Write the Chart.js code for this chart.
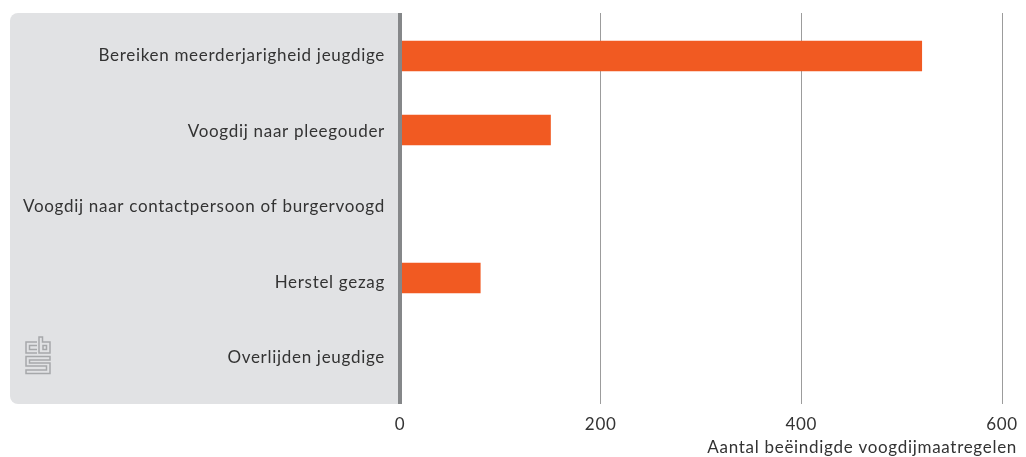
<!DOCTYPE html>
<html>
<head>
    <meta charset="utf-8"/>
    <title>Beëindigde voogdijmaatregelen</title>
    <style>
        html, body { margin: 0; padding: 0; background: #ffffff; }
        #wrap { width: 1026px; height: 457px; }
    </style>
</head>
<body>
<div id="wrap"><canvas id="grafiek" width="1026" height="457"></canvas></div>

<script src="https://cdn.jsdelivr.net/npm/chart.js@4/dist/chart.umd.min.js"></script>
<script>
var categories = [
    "Bereiken meerderjarigheid jeugdige",
    "Voogdij naar pleegouder",
    "Voogdij naar contactpersoon of burgervoogd",
    "Herstel gezag",
    "Overlijden jeugdige"
];
var waarden = [520, 150, 0, 80, 0];
var xTicks = [0, 200, 400, 600];
var xTitel = "Aantal beëindigde voogdijmaatregelen";

var FONT = "Lato, sans-serif";
var FONTSIZE = 17;
var LETTER = "0.7px";
var TEKST = "#333333";

// cbs logo, in de grijze kant van het paneel
function drawLogo(ctx, x, y)
{
    ctx.save();
    ctx.translate(x, y);
    ctx.strokeStyle = "#a6a8aa";
    ctx.lineWidth = 1.5;
    ctx.beginPath();
    // c
    ctx.moveTo(12, 6); ctx.lineTo(1, 6); ctx.lineTo(1, 17); ctx.lineTo(12, 17);
    ctx.moveTo(12, 9.5); ctx.lineTo(4.5, 9.5); ctx.lineTo(4.5, 13.5); ctx.lineTo(12, 13.5);
    // b
    ctx.moveTo(14, 1); ctx.lineTo(14, 17); ctx.lineTo(25, 17); ctx.lineTo(25, 6); ctx.lineTo(17.5, 6); ctx.lineTo(17.5, 1); ctx.closePath();
    ctx.rect(18, 9.5, 3.5, 4);
    // s
    ctx.moveTo(25, 20.5); ctx.lineTo(1, 20.5); ctx.lineTo(1, 30); ctx.lineTo(21.5, 30); ctx.lineTo(21.5, 34);
    ctx.lineTo(1, 34); ctx.lineTo(1, 37.5); ctx.lineTo(25, 37.5); ctx.lineTo(25, 27); ctx.lineTo(4.5, 27);
    ctx.lineTo(4.5, 24); ctx.lineTo(25, 24); ctx.closePath();
    ctx.stroke();
    ctx.restore();
}

var achtergrond = {
    id: "achtergrond",
    beforeLayout: function(chart) { chart.ctx.letterSpacing = LETTER; },
    afterLayout: function(chart) {
        // de labels staan in het origineel iets ruimer dan de balken
        chart.scales.y.getLabelItems().forEach(function(item, i) {
            item.options.translation[1] += i * 1.5;
        });
    },
    beforeDraw: function(chart) {
        var ctx = chart.ctx;
        ctx.letterSpacing = LETTER;
        var x0 = chart.scales.x.getPixelForValue(0);
        ctx.save();
        ctx.fillStyle = "#e1e2e4";
        ctx.beginPath();
        ctx.roundRect(10, 13, x0 - 10, 391, [8, 0, 0, 8]);
        ctx.fill();
        ctx.restore();
        drawLogo(ctx, 25, 336);
    },
    beforeDatasetsDraw: function(chart) {
        var ctx = chart.ctx;
        var sx = chart.scales.x;
        ctx.save();
        ctx.strokeStyle = "#9c9c9c";
        ctx.lineWidth = 1;
        xTicks.forEach(function(t) {
            if (t == 0) return;
            var px = Math.round(sx.getPixelForValue(t) - 0.3) + 0.5;
            ctx.beginPath();
            ctx.moveTo(px, 13);
            ctx.lineTo(px, 404);
            ctx.stroke();
        });
        ctx.restore();
    },
    afterDatasetsDraw: function(chart) {
        var ctx = chart.ctx;
        var px = chart.scales.x.getPixelForValue(0);
        ctx.save();
        ctx.strokeStyle = "#858789";
        ctx.lineWidth = 4;
        ctx.beginPath();
        ctx.moveTo(px, 13);
        ctx.lineTo(px, 404);
        ctx.stroke();
        // astitel loopt voorbij de as, dus zelf zetten
        ctx.fillStyle = TEKST;
        ctx.font = FONTSIZE + "px " + FONT;
        ctx.textAlign = "right";
        ctx.textBaseline = "middle";
        ctx.fillText(xTitel, 1017, 448);
        ctx.restore();
    }
};

Chart.defaults.font.family = FONT;

new Chart(document.getElementById("grafiek").getContext("2d"), {
    type: "bar",
    plugins: [achtergrond],
    data: {
        labels: categories,
        datasets: [{
            data: waarden,
            backgroundColor: "#f15a22",
            borderWidth: 0,
            barThickness: 30
        }]
    },
    options: {
        indexAxis: "y",
        responsive: false,
        animation: false,
        layout: { padding: { top: 19, right: 24, bottom: 0, left: 0 } },
        plugins: {
            legend: { display: false },
            tooltip: { enabled: false }
        },
        scales: {
            x: {
                min: 0,
                max: 600,
                afterBuildTicks: function(axis) {
                    axis.ticks = xTicks.map(function(v) { return { value: v }; });
                },
                afterFit: function(axis) {
                    axis.height = 68;
                    axis.paddingLeft = 0;
                    axis.paddingRight = 0;
                },
                grid: { display: false, drawTicks: false },
                border: { display: false },
                ticks: { color: TEKST, font: { size: FONTSIZE }, padding: 25, maxRotation: 0 }
            },
            y: {
                afterFit: function(axis) {
                    axis.width = 400;
                    axis.paddingTop = 0;
                    axis.paddingBottom = 0;
                },
                grid: { display: false, drawTicks: false },
                border: { display: false },
                ticks: { color: TEKST, font: { size: FONTSIZE }, padding: 15, autoSkip: false }
            }
        }
    }
});
</script>
</body>
</html>
